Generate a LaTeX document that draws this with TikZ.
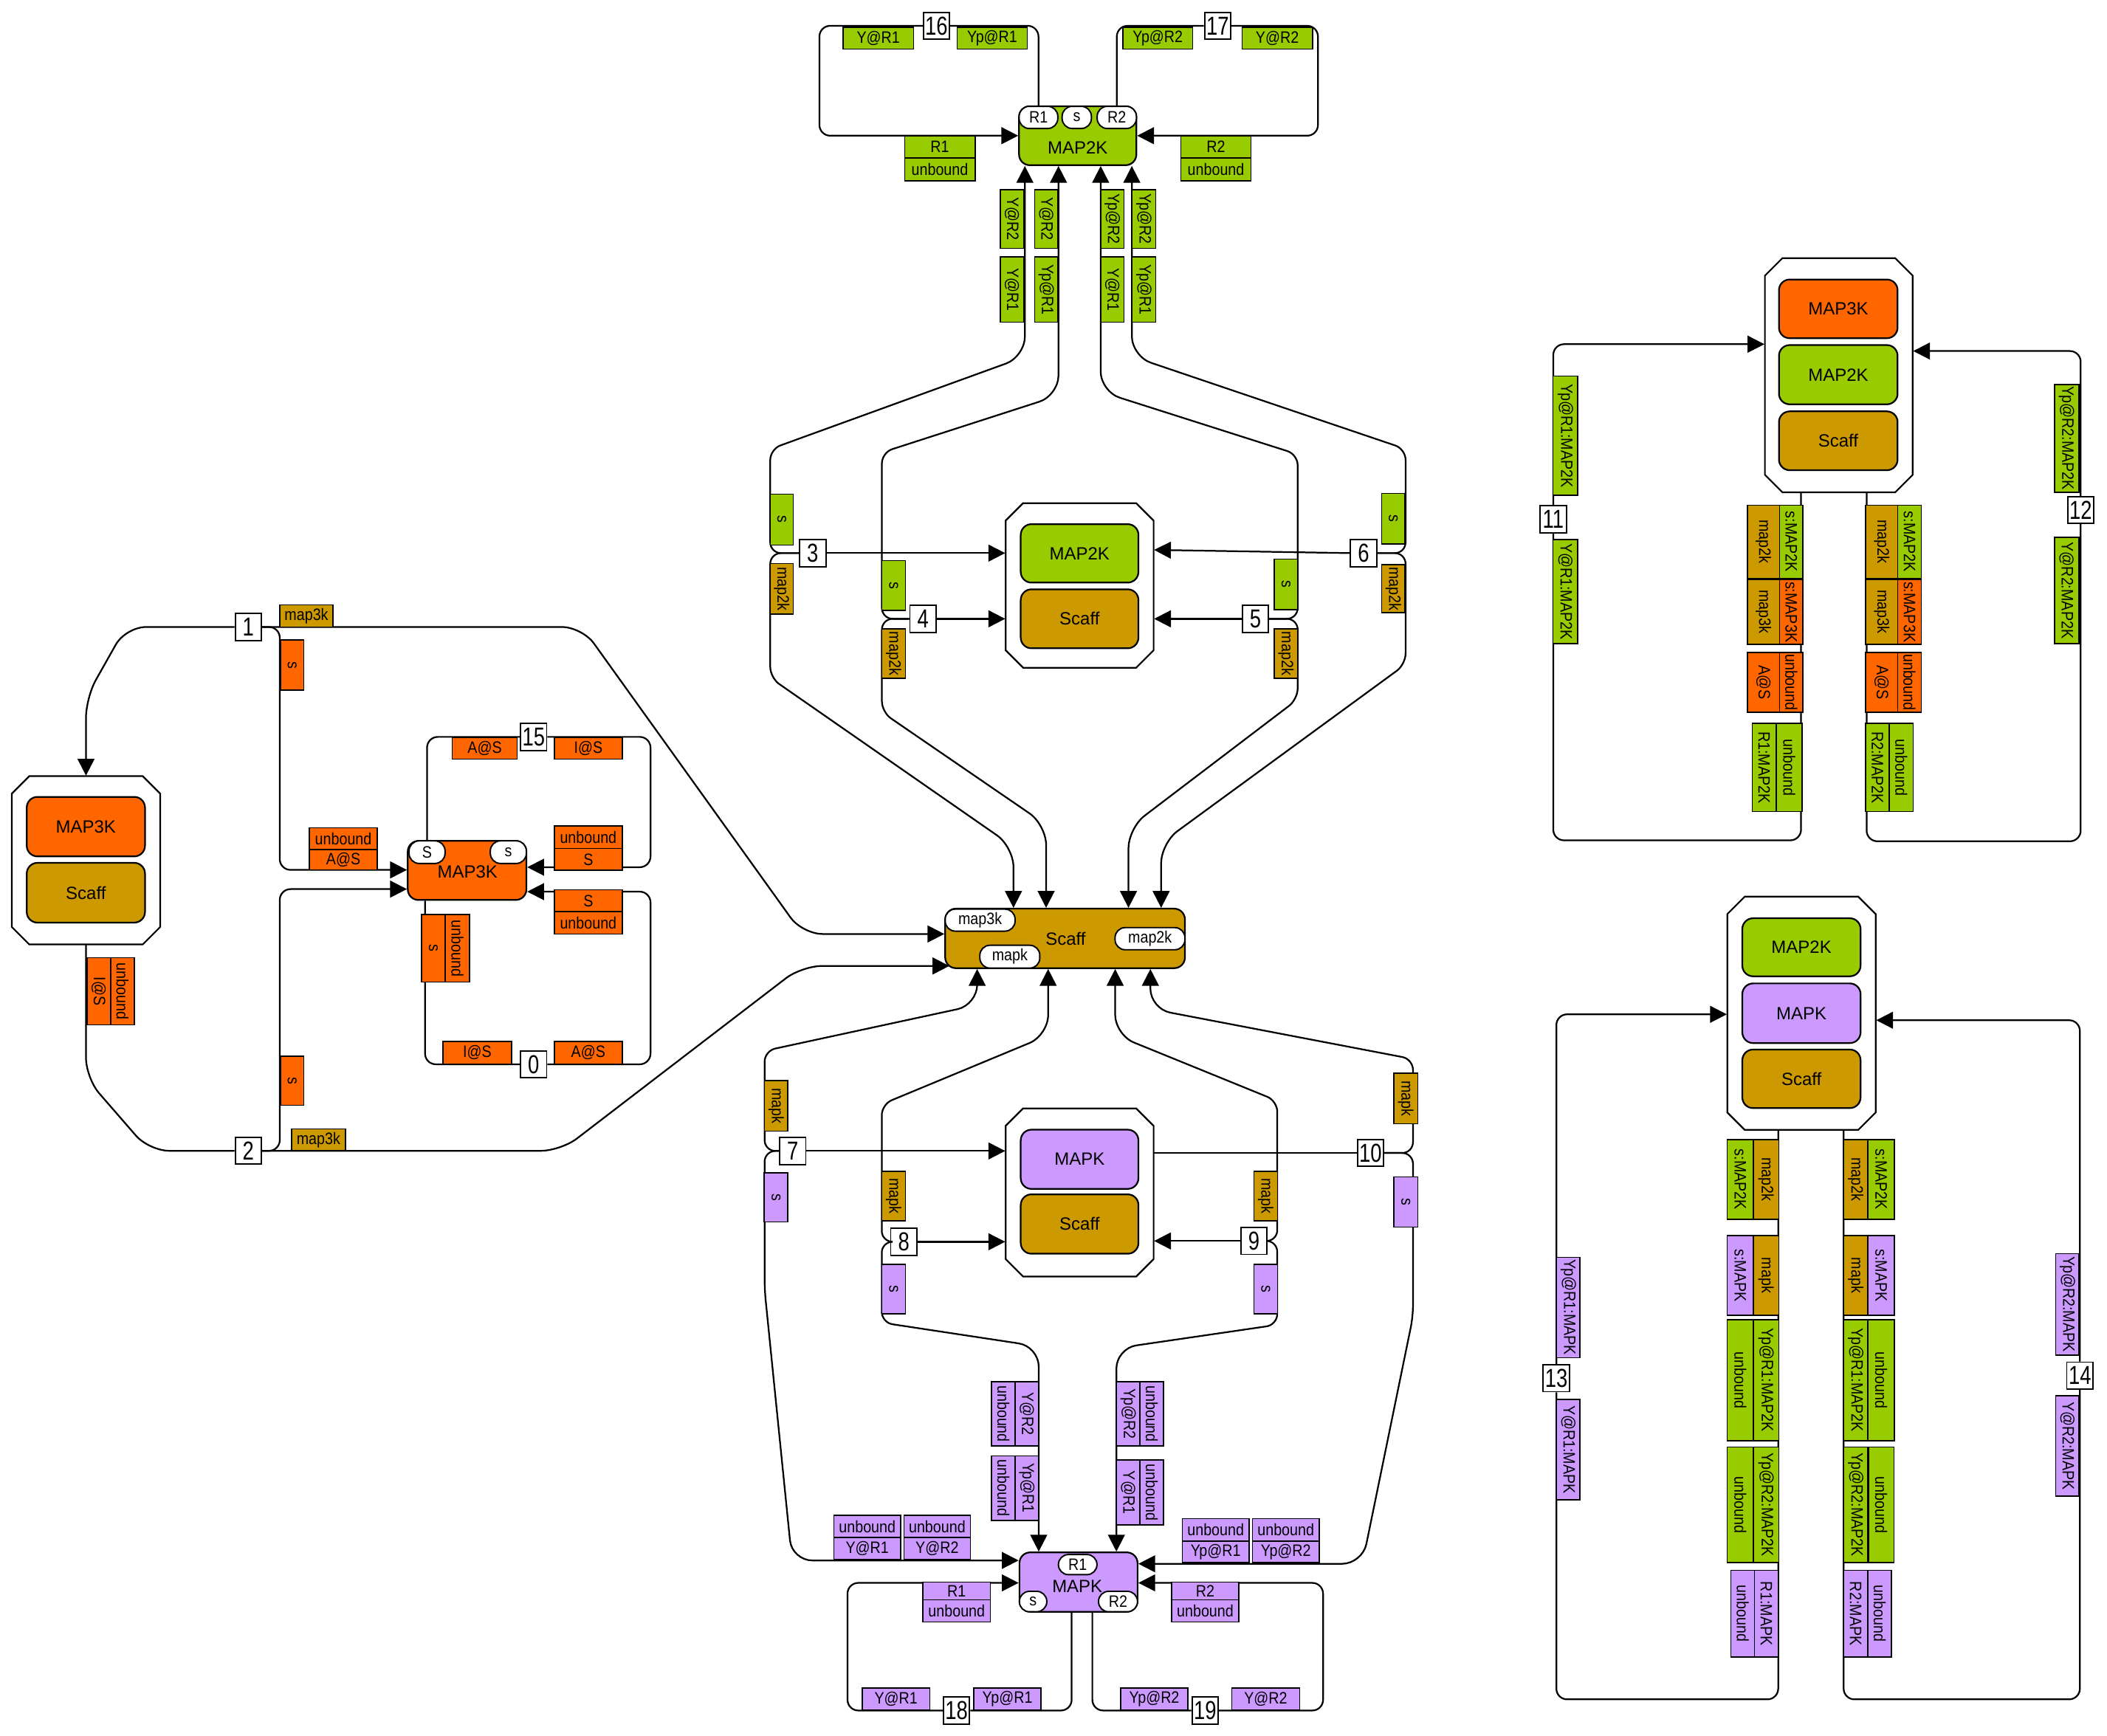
\documentclass[tikz,border=0pt]{standalone}
\usepackage{graphicx}
\usepackage{fontspec}
\setmainfont{Liberation Sans}
\usetikzlibrary{arrows.meta}
\definecolor{cgreen}{HTML}{99CC00}
\definecolor{corange}{HTML}{FF6600}
\definecolor{cgold}{HTML}{CC9900}
\definecolor{cpurple}{HTML}{CC99FF}
\newcommand\mylf{\fontsize{7}{8}\selectfont}
\newcommand\mycz[1]{\scalebox{0.88}[1]{#1}}
\tikzset{
 lbl/.style={draw, line width=0.5pt, inner sep=0pt, font=\mylf},
 site/.style={draw, fill=white, line width=0.6pt, inner sep=0pt, rounded corners=0.15cm, font=\mylf},
 agent/.style={draw, line width=0.7pt, rounded corners=0.16cm, inner sep=0pt, font=\fontsize{7.5}{9}\selectfont},
 agtext/.style={inner sep=0pt, font=\fontsize{7.5}{9}\selectfont},
 rxn/.style={draw, fill=white, line width=0.6pt, inner sep=0pt, minimum width=0.39cm, minimum height=0.4cm, font=\fontsize{11}{12}\selectfont},
 conn/.style={line width=0.7pt, rounded corners=0.16cm},
 wide/.style={rounded corners=0.3cm},
 arr/.style={-{Triangle[length=0.25cm,width=0.25cm]}},
 cplx/.style={draw, line width=0.7pt, fill=white},
}
\newcommand\mkHL[7]{\node[lbl,fill=#2,minimum width={#5*0.02cm},minimum height={#6*0.02cm}] (#1) at (#3,#4) {\mycz{#7}};}
\newcommand\mkVL[7]{\node[lbl,rotate=-90,fill=#2,minimum width={#5*0.02cm},minimum height={#6*0.02cm}] (#1) at (#3,#4) {\mycz{#7}};}
\newcommand\mkRX[4]{\node[rxn] (#1) at (#2,#3) {\scalebox{0.78}[1]{#4}};}
\newcommand\mkAG[7]{\node[agent,fill=#2,minimum width={#5*0.02cm},minimum height={#6*0.02cm}] (#1) at (#3,#4) {#7};}
\newcommand\mkST[6]{\node[site,minimum width={#4*0.02cm},minimum height={#5*0.02cm}] (#1) at (#2,#3) {\mycz{#6}};}
\newcommand\mkCX[5]{%
 \draw[cplx] ({#2+13},#3) -- ({#4-13},#3) -- (#4,{#3+13}) -- (#4,{#5-13}) -- ({#4-13},#5) -- ({#2+13},#5) -- (#2,{#5-13}) -- (#2,{#3+13}) -- cycle;
 \node[inner sep=0pt, minimum width={(#4-#2)*0.02cm}, minimum height={(#5-#3)*0.02cm}] (#1) at ({(#2+#4)/2},{(#3+#5)/2}) {};}
\begin{document}
\begin{tikzpicture}[x=0.02cm,y=-0.02cm]
\useasboundingbox (0,0) rectangle (1568,1292);
% ---------- complexes ----------
\mkCX{cxL}{8.8}{577.7}{119.2}{703}
\mkCX{cxA}{748.4}{374.5}{858.5}{497}
\mkCX{cxB}{748.4}{825}{858.5}{950.2}
\mkCX{cxC}{1313.4}{192.2}{1423.4}{366.4}
\mkCX{cxD}{1285.4}{667.4}{1395.9}{841}
\mkAG{cxLa}{corange}{63.9}{615.3}{88}{44.3}{MAP3K}
\mkAG{cxLb}{cgold}{63.9}{664.5}{88}{44.5}{Scaff}
\mkAG{cxAa}{cgreen}{803.4}{411.9}{87.6}{43.5}{MAP2K}
\mkAG{cxAb}{cgold}{803.4}{460.6}{87.6}{43.9}{Scaff}
\mkAG{cxBa}{cpurple}{803.4}{862.9}{87.6}{44.1}{MAPK}
\mkAG{cxBb}{cgold}{803.4}{911.1}{87.6}{44.2}{Scaff}
\mkAG{cxCa}{corange}{1368}{229.9}{88.3}{43.7}{MAP3K}
\mkAG{cxCb}{cgreen}{1368}{278.9}{88.3}{44.1}{MAP2K}
\mkAG{cxCc}{cgold}{1368}{328.1}{88.3}{43.8}{Scaff}
\mkAG{cxDa}{cgreen}{1340.6}{705.1}{88}{43.2}{MAP2K}
\mkAG{cxDb}{cpurple}{1340.6}{754.2}{88}{44.4}{MAPK}
\mkAG{cxDc}{cgold}{1340.6}{803}{88}{43.6}{Scaff}
% ---------- agents ----------
\mkAG{m2k}{cgreen}{802}{101}{87.3}{43.9}{}
\node[agtext] (m2kT) at (802,110) {MAP2K};
\mkAG{m3k}{corange}{347.6}{647.9}{88.3}{44}{}
\node[agtext] (m3kT) at (347.9,649) {MAP3K};
\mkAG{sc}{cgold}{792.6}{698.5}{178.4}{44.3}{}
\node[agtext] (scT) at (793,699) {Scaff};
\mkAG{mk}{cpurple}{802.6}{1177.6}{87.9}{44.2}{}
\node[agtext] (mkT) at (801.7,1181) {MAPK};
% ---------- sites ----------
\mkST{sR1a}{772.8}{87.4}{28.8}{16.5}{R1}
\mkST{ssa}{801.3}{87.4}{21.8}{16.5}{s}
\mkST{sR2a}{831.1}{87.4}{29.2}{16.5}{R2}
\mkST{sSb}{317.8}{634.3}{26.8}{16.8}{S}
\mkST{ssb}{378.3}{634.3}{26.8}{16.8}{s}
\mkST{smap3k}{729.4}{684.9}{52}{16.4}{map3k}
\mkST{smapk}{751.5}{712.1}{44.6}{17}{mapk}
\mkST{smap2k}{855.8}{698.7}{52}{16.5}{map2k}
\mkST{sR1c}{802}{1164.6}{28.7}{15}{R1}
\mkST{ssc}{768.8}{1192.1}{20.4}{15.2}{s}
\mkST{sR2c}{832}{1192.1}{29}{15.2}{R2}
% ---------- reaction boxes ----------
\mkRX{r0}{397.1}{792.2}{0}
\mkRX{r1}{184.8}{466.7}{1}
\mkRX{r2}{184.8}{856.6}{2}
\mkRX{r3}{604.8}{411.7}{3}
\mkRX{r4}{686.9}{460.6}{4}
\mkRX{r5}{934.2}{460.6}{5}
\mkRX{r6}{1014.8}{411.7}{6}
\mkRX{r7}{589.9}{856.7}{7}
\mkRX{r8}{672.6}{924.3}{8}
\mkRX{r9}{933.1}{923.7}{9}
\mkRX{r10}{1019.9}{858.2}{10}
\mkRX{r11}{1155.9}{386.5}{11}
\mkRX{r12}{1548.4}{379.6}{12}
\mkRX{r13}{1158.2}{1025.9}{13}
\mkRX{r14}{1547.8}{1023.9}{14}
\mkRX{r15}{397.1}{548.5}{15}
\mkRX{r16}{696.9}{19.2}{16}
\mkRX{r17}{906.2}{19.2}{17}
\mkRX{r18}{711.8}{1273.2}{18}
\mkRX{r19}{896.8}{1273.2}{19}
% ---------- connectors: loops ----------
\draw[conn] (r16.east) -| (sR1a.north);
\draw[conn,arr] (r16.west) -| (609.8,101) -- (m2k.west);
\draw[conn] (r17.west) -| (sR2a.north);
\draw[conn,arr] (r17.east) -| (980.8,101) -- (m2k.east);
\draw[conn] (r15.west) -| (sSb.north);
\draw[conn,arr] (r15.east) -| (484.1,645.5) -- (m3k.east |- 0,645.5);
\draw[conn] (r0.west) -| (316.3,0 |- m3k.south);
\draw[conn,arr] (r0.east) -| (484.1,663.7) -- (m3k.east |- 0,663.7);
\draw[conn] (r18.east) -| (797.5,0 |- mk.south);
\draw[conn,arr] (r18.west) -| (630.7,1178.2) -- (mk.west |- 0,1178.2);
\draw[conn] (r19.west) -| (812.9,0 |- mk.south);
\draw[conn,arr] (r19.east) -| (984.6,1178.2) -- (mk.east |- 0,1178.2);
\draw[conn,arr] (r11.north) |- (cxC.west |- 0,256.2);
\draw[conn] (r11.south) |- (1340.3,625.5) -- (1340.3,0 |- cxC.south);
\draw[conn,arr] (r12.north) |- (cxC.east |- 0,261.3);
\draw[conn] (r12.south) |- (1389.1,626.2) -- (1389.1,0 |- cxC.south);
\draw[conn,arr] (r13.north) |- (cxD.west |- 0,755);
\draw[conn] (r13.south) |- (1323.3,1264.9) -- (1323.3,0 |- cxD.south);
\draw[conn,arr] (r14.north) |- (cxD.east |- 0,759.4);
\draw[conn] (r14.south) |- (1372,1264.9) -- (1372,0 |- cxD.south);
% ---------- connectors: MAP2K binding ----------
\draw[conn,arr] (r3.west) -| (573.2,334.3) [wide] -- (762.7,265.5) -- (762.7,0 |- m2k.south);
\draw[conn,arr] (r3.west) -| (573.2,504.5) [wide] -- (754.2,630.3) -- (754.2,0 |- sc.north);
\draw[conn,arr] (r3.east) -- (cxA.west |- r3.east);
\draw[conn,arr] (r4.west) -| (656.3,336.8) [wide] -- (787.7,294.4) -- (787.7,0 |- m2k.south);
\draw[conn,arr] (r4.west) -| (656.3,530.1) [wide] -- (778.5,613.9) -- (778.5,0 |- sc.north);
\draw[conn,arr] (r4.east) -- (cxA.west |- r4.east);
\draw[conn,arr] (r5.east) -| (965.7,338.2) [wide] -- (819.1,291.5) -- (819.1,0 |- m2k.south);
\draw[conn,arr] (r5.east) -| (965.7,520.5) [wide] -- (839.8,616.3) -- (839.8,0 |- sc.north);
\draw[conn,arr] (r5.west) -- (cxA.east |- r5.west);
\draw[conn,arr] (r6.east) -| (1046,334.2) [wide] -- (842.3,265.2) -- (842.3,0 |- m2k.south);
\draw[conn,arr] (r6.east) -| (1046,494.5) [wide] -- (864.1,627.5) -- (864.1,0 |- sc.north);
\draw[conn,arr] (r6.west) -- (cxA.east |- 0,409.3);
% ---------- connectors: MAP3K binding ----------
\draw[conn,arr,wide] (r1.west) -- (93.6,466.7) -- (64,519.1) -- (64,0 |- cxL.north);
\draw[conn,arr,wide] (r1.east) -- (433.2,466.7) -- (597.1,695.2) -- (sc.west |- 0,695.2);
\draw[conn,arr] (r1.east) -| (208.2,647.5) -- (m3k.west |- 0,647.5);
\draw[conn,wide] (r2.west) -- (111,856.6) -- (64,802.5) -- (64,0 |- cxL.south);
\draw[conn,arr,wide] (r2.east) -- (417.4,856.6) -- (596.8,719) -- (706.5,719);
\draw[conn,arr] (r2.east) -| (208.2,661.8) -- (m3k.west |- 0,661.8);
% ---------- connectors: MAPK binding ----------
\draw[conn,arr] (r7.west) -| (569,782.2) [wide] -- (727.2,748) -- (727.2,0 |- sc.south);
\draw[conn,arr] (r7.west) -| (569,960) [wide] -- (589.4,1161.5) -- (mk.west |- 0,1161.5);
\draw[conn,arr] (r7.east) -- (cxB.west |- r7.east);
\draw[conn,arr] (r8.west) -| (656.2,822) [wide] -- (780,770.6) -- (780,0 |- sc.south);
\draw[conn,arr] (r8.west) -| (656.2,984.5) [wide] -- (773,1002.2) -- (773,0 |- mk.north);
\draw[conn,arr] (r8.east) -- (cxB.west |- r8.east);
\draw[conn,arr] (r9.east) -| (950.5,819.4) [wide] -- (829.9,770.3) -- (829.9,0 |- sc.south);
\draw[conn,arr] (r9.east) -| (950.5,986.1) [wide] -- (830.8,1003.6) -- (830.8,0 |- mk.north);
\draw[conn,arr] (r9.west) -- (cxB.east |- r9.west);
\draw[conn,arr] (r10.east) -| (1051.5,788.3) [wide] -- (856.1,750.9) -- (856.1,0 |- sc.south);
\draw[conn,arr] (r10.east) -| (1051.5,980) [wide] -- (1013.8,1164) -- (mk.east |- 0,1164);
\draw[conn] (r10.west) -- (cxB.east |- r10.west);
% ---------- labels: top MAP2K ----------
\mkHL{l1}{cgreen}{653.6}{28.5}{52.4}{16.1}{Y@R1}
\mkHL{l2}{cgreen}{738.4}{28.5}{52.2}{16.1}{Yp@R1}
\mkHL{l3}{cgreen}{699.4}{109.3}{52.4}{16.4}{R1}
\mkHL{l4}{cgreen}{699.4}{126}{52.4}{17}{unbound}
\mkHL{l5}{cgreen}{861.6}{28.5}{52}{16.1}{Yp@R2}
\mkHL{l6}{cgreen}{950.5}{28.5}{52.5}{16.1}{Y@R2}
\mkHL{l7}{cgreen}{904.9}{109.3}{52.2}{16.4}{R2}
\mkHL{l8}{cgreen}{904.9}{126}{52.2}{17}{unbound}
\mkVL{l9}{cgreen}{753}{163}{43.9}{17.3}{Y@R2}
\mkVL{l10}{cgreen}{753}{215.6}{48.6}{17.3}{Y@R1}
\mkVL{l11}{cgreen}{778.6}{163}{43.9}{17.3}{Y@R2}
\mkVL{l12}{cgreen}{778.6}{215.6}{48.6}{17.3}{Yp@R1}
\mkVL{l13}{cgreen}{827.8}{163}{43.9}{17.3}{Yp@R2}
\mkVL{l14}{cgreen}{827.8}{215.6}{48.6}{17.3}{Y@R1}
\mkVL{l15}{cgreen}{851.2}{163}{43.9}{17.8}{Yp@R2}
\mkVL{l16}{cgreen}{851.2}{215.6}{48.6}{17.8}{Yp@R1}
\mkVL{l17}{cgreen}{581.8}{386.7}{37.9}{17.2}{s}
\mkVL{l18}{cgold}{581.8}{438.2}{37.5}{17.2}{map2k}
\mkVL{l19}{cgreen}{665}{435.7}{37}{17.5}{s}
\mkVL{l20}{cgold}{665}{486.5}{37}{17.5}{map2k}
\mkVL{l21}{cgreen}{957}{435}{37.5}{17.5}{s}
\mkVL{l22}{cgold}{957}{486.5}{37}{17.5}{map2k}
\mkVL{l23}{cgreen}{1036.9}{386}{37.5}{17.5}{s}
\mkVL{l24}{cgold}{1036.9}{438.2}{35.7}{17.5}{map2k}
% ---------- labels: left MAP3K ----------
\mkHL{l25}{cgold}{228}{458.5}{39.7}{16.5}{map3k}
\mkVL{l26}{corange}{217.4}{495.1}{37.3}{17.3}{s}
\mkHL{l27}{corange}{255.5}{624.3}{50.5}{16.3}{unbound}
\mkHL{l28}{corange}{255.5}{640}{50.5}{15.1}{A@S}
\mkVL{l29}{corange}{217.4}{804.5}{36.5}{17.3}{s}
\mkHL{l30}{cgold}{237}{848.5}{40}{16.3}{map3k}
\mkVL{l31}{corange}{73.5}{737.8}{49.9}{17.6}{I@S}
\mkVL{l32}{corange}{91.2}{737.8}{49.9}{17.7}{unbound}
\mkHL{l33}{corange}{360.7}{557}{48.3}{16.3}{A@S}
\mkHL{l34}{corange}{437.8}{557}{50.5}{16.3}{I@S}
\mkHL{l35}{corange}{437.8}{623.1}{50.5}{16.8}{unbound}
\mkHL{l36}{corange}{437.8}{639.7}{50.5}{16.3}{S}
\mkVL{l37}{corange}{322.5}{705.8}{50.4}{17.4}{s}
\mkVL{l38}{corange}{340.4}{705.8}{50.4}{18.3}{unbound}
\mkHL{l39}{corange}{355.2}{783.6}{51.1}{16.5}{I@S}
\mkHL{l40}{corange}{437.8}{783.6}{50.5}{16.5}{A@S}
\mkHL{l41}{corange}{437.8}{670.5}{50.5}{16.3}{S}
\mkHL{l42}{corange}{437.8}{686.9}{50.5}{16.5}{unbound}
% ---------- labels: MAPK ----------
\mkVL{l43}{cgold}{577.6}{823.2}{37.5}{17.2}{mapk}
\mkVL{l44}{cpurple}{577.5}{891.2}{36.6}{17.5}{s}
\mkVL{l45}{cgold}{665}{890.2}{36.9}{17.5}{mapk}
\mkVL{l46}{cpurple}{665}{959.5}{36.9}{17.5}{s}
\mkVL{l47}{cgold}{941.9}{890.2}{36.9}{17.5}{mapk}
\mkVL{l48}{cpurple}{941.9}{959.5}{36.9}{17.5}{s}
\mkVL{l49}{cgold}{1046.2}{817.6}{37.7}{17.7}{mapk}
\mkVL{l50}{cpurple}{1046.2}{894.7}{37.2}{17.7}{s}
\mkVL{l51}{cpurple}{746.7}{1052.4}{48}{17.5}{unbound}
\mkVL{l52}{cpurple}{764.2}{1052.4}{48}{17.6}{Y@R2}
\mkVL{l53}{cpurple}{746.7}{1107.6}{48}{17.5}{unbound}
\mkVL{l54}{cpurple}{764.2}{1107.6}{48}{17.6}{Yp@R1}
\mkVL{l55}{cpurple}{839.6}{1052.4}{48}{17.5}{Yp@R2}
\mkVL{l56}{cpurple}{857.1}{1052.4}{48}{17.5}{unbound}
\mkVL{l57}{cpurple}{839.6}{1110.9}{48.2}{17.5}{Y@R1}
\mkVL{l58}{cpurple}{857.1}{1110.9}{48.2}{17.5}{unbound}
\mkHL{l59}{cpurple}{645.4}{1136.2}{49.8}{16.7}{unbound}
\mkHL{l60}{cpurple}{645.4}{1152.7}{49.8}{16.4}{Y@R1}
\mkHL{l61}{cpurple}{697.4}{1136.2}{49.4}{16.7}{unbound}
\mkHL{l62}{cpurple}{697.4}{1152.7}{49.4}{16.4}{Y@R2}
\mkHL{l63}{cpurple}{904.7}{1138.8}{49.8}{17}{unbound}
\mkHL{l64}{cpurple}{904.7}{1155.2}{49.8}{15.8}{Yp@R1}
\mkHL{l65}{cpurple}{956.9}{1138.8}{49.8}{17}{unbound}
\mkHL{l66}{cpurple}{956.9}{1155.2}{49.8}{15.8}{Yp@R2}
\mkHL{l67}{cpurple}{711.9}{1184.3}{50.1}{13.3}{R1}
\mkHL{l68}{cpurple}{711.9}{1199.1}{50.1}{16.4}{unbound}
\mkHL{l69}{cpurple}{666.8}{1264.7}{50.4}{16.4}{Y@R1}
\mkHL{l70}{cpurple}{749.7}{1264.7}{50.1}{16.4}{Yp@R1}
\mkHL{l71}{cpurple}{896.9}{1184.3}{50.1}{13.3}{R2}
\mkHL{l72}{cpurple}{896.9}{1199.1}{50.1}{16.4}{unbound}
\mkHL{l73}{cpurple}{859}{1264.7}{50.1}{16.4}{Yp@R2}
\mkHL{l74}{cpurple}{941.9}{1264.7}{50.5}{16.4}{Y@R2}
% ---------- labels: right top ----------
\mkVL{l75}{cgreen}{1164.9}{324.4}{88.8}{18.5}{Yp@R1:MAP2K}
\mkVL{l76}{cgreen}{1164.9}{440.3}{77.5}{18.5}{Y@R1:MAP2K}
\mkVL{l77}{cgold}{1312.3}{403.2}{54.5}{24}{map2k}
\mkVL{l78}{cgreen}{1333}{403.2}{54.5}{17.5}{s:MAP2K}
\mkVL{l79}{cgold}{1312.3}{455.5}{48.3}{24}{map3k}
\mkVL{l80}{corange}{1333}{455.5}{48.3}{17.5}{s:MAP3K}
\mkVL{l81}{corange}{1312.3}{507.9}{44.7}{24}{A@S}
\mkVL{l82}{corange}{1333}{507.9}{44.7}{17.5}{unbound}
\mkVL{l83}{cgreen}{1312.9}{571.3}{65.6}{17.9}{R1:MAP2K}
\mkVL{l84}{cgreen}{1331.5}{571.3}{65.6}{19.3}{unbound}
\mkVL{l85}{cgold}{1400.3}{403.2}{54.5}{23.8}{map2k}
\mkVL{l86}{cgreen}{1421}{403.2}{54.5}{17.5}{s:MAP2K}
\mkVL{l87}{cgold}{1400.3}{455.5}{48.3}{23.8}{map3k}
\mkVL{l88}{corange}{1421}{455.5}{48.3}{17.5}{s:MAP3K}
\mkVL{l89}{corange}{1400.3}{507.9}{44.7}{23.8}{A@S}
\mkVL{l90}{corange}{1421}{507.9}{44.7}{17.5}{unbound}
\mkVL{l91}{cgreen}{1397.2}{571.3}{65.6}{17.6}{R2:MAP2K}
\mkVL{l92}{cgreen}{1414.9}{571.3}{65.6}{17.8}{unbound}
\mkVL{l93}{cgreen}{1537.9}{326.3}{80.2}{18.1}{Yp@R2:MAP2K}
\mkVL{l94}{cgreen}{1537.9}{439.5}{79.3}{18.1}{Y@R2:MAP2K}
% ---------- labels: right bottom ----------
\mkVL{l95}{cpurple}{1167.1}{973.2}{74.7}{17.4}{Yp@R1:MAPK}
\mkVL{l96}{cpurple}{1167.1}{1079}{74.7}{17.4}{Y@R1:MAPK}
\mkVL{l97}{cgreen}{1295.1}{877.9}{59.4}{19.4}{s:MAP2K}
\mkVL{l98}{cgold}{1314.3}{877.9}{59.4}{19}{map2k}
\mkVL{l99}{cpurple}{1295.1}{949.4}{59.3}{19.4}{s:MAPK}
\mkVL{l100}{cgold}{1314.3}{949.4}{59.3}{19}{mapk}
\mkVL{l101}{cgreen}{1295.1}{1027.3}{90}{19.4}{unbound}
\mkVL{l102}{cgreen}{1314.3}{1027.3}{90}{19}{Yp@R1:MAP2K}
\mkVL{l103}{cgreen}{1295.1}{1120.1}{86}{19.4}{unbound}
\mkVL{l104}{cgreen}{1314.3}{1120.1}{86}{19}{Yp@R2:MAP2K}
\mkVL{l105}{cpurple}{1296.9}{1201.1}{64.6}{17.7}{unbound}
\mkVL{l106}{cpurple}{1314.5}{1201.1}{64.6}{17.6}{R1:MAPK}
\mkVL{l107}{cgold}{1381}{877.9}{59.4}{17.9}{map2k}
\mkVL{l108}{cgreen}{1399.9}{877.9}{59.4}{20}{s:MAP2K}
\mkVL{l109}{cgold}{1381}{949.4}{59.3}{17.9}{mapk}
\mkVL{l110}{cpurple}{1399.9}{949.4}{59.3}{20}{s:MAPK}
\mkVL{l111}{cgreen}{1381}{1027.3}{90}{17.9}{Yp@R1:MAP2K}
\mkVL{l112}{cgreen}{1399.9}{1027.3}{90}{20}{unbound}
\mkVL{l113}{cgreen}{1381}{1120.1}{86}{17.9}{Yp@R2:MAP2K}
\mkVL{l114}{cgreen}{1399.9}{1120.1}{86}{19}{unbound}
\mkVL{l115}{cpurple}{1381}{1201.1}{64.6}{17.9}{R2:MAPK}
\mkVL{l116}{cpurple}{1398.8}{1201.1}{64.6}{17.8}{unbound}
\mkVL{l117}{cpurple}{1538.5}{970.8}{75.5}{17.4}{Yp@R2:MAPK}
\mkVL{l118}{cpurple}{1538.5}{1076.2}{74.7}{17.4}{Y@R2:MAPK}
\end{tikzpicture}
\end{document}
